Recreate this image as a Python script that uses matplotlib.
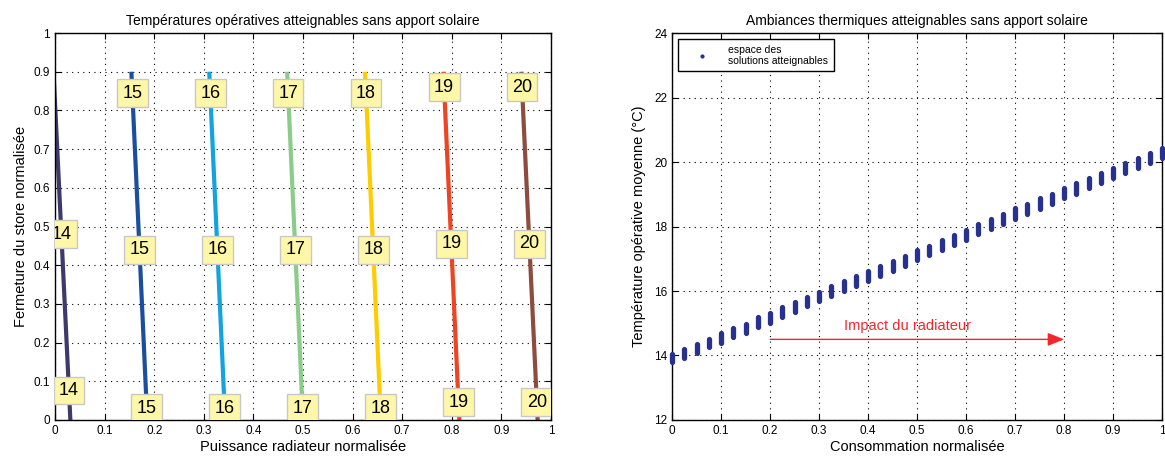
"""Températures et ambiances atteignables sans apport solaire."""

import matplotlib

matplotlib.use("Agg")
import matplotlib.pyplot as plt
import numpy as np
from matplotlib.lines import Line2D

plt.rcParams["font.family"] = ["Liberation Sans", "DejaVu Sans"]

# left panel: iso-temperature lines (x at store=0 and at store=0.9)
iso_temps = [14, 15, 16, 17, 18, 19, 20]
iso_x_bottom = [0.031, 0.186, 0.343, 0.500, 0.657, 0.815, 0.973]
iso_x_top = [-0.003, 0.154, 0.311, 0.468, 0.625, 0.783, 0.940]
iso_y_range = [0.0, 0.9]
iso_colors = ["#3d3a6b", "#1b4e9e", "#13a3e0", "#8ccc8a", "#ffcc00", "#ef4423", "#8c4c3e"]
# heights of the three rows of inline labels for each line
label_y_top = [None, 0.845, 0.845, 0.845, 0.845, 0.86, 0.86]
label_y_mid = [0.48, 0.44, 0.44, 0.44, 0.44, 0.455, 0.455]
label_y_low = [0.076, 0.03, 0.03, 0.03, 0.03, 0.046, 0.046]

# right panel: reachable operative temperatures per consumption level
conso = [0.0, 0.025, 0.05, 0.075, 0.1, 0.125, 0.15, 0.175, 0.2, 0.225, 0.25,
         0.275, 0.3, 0.325, 0.35, 0.375, 0.4, 0.425, 0.45, 0.475, 0.5,
         0.525, 0.55, 0.575, 0.6, 0.625, 0.65, 0.675, 0.7, 0.725, 0.75,
         0.775, 0.8, 0.825, 0.85, 0.875, 0.9, 0.925, 0.95, 0.975, 1.0]
t_low = [13.80, 13.93, 14.09, 14.26, 14.40, 14.58, 14.71, 14.89, 15.02, 15.20, 15.36,
         15.53, 15.69, 15.84, 16.00, 16.16, 16.31, 16.48, 16.63, 16.79, 16.97,
         17.12, 17.28, 17.43, 17.59, 17.77, 17.92, 18.08, 18.23, 18.40, 18.55,
         18.71, 18.87, 19.02, 19.18, 19.36, 19.51, 19.67, 19.82, 19.98, 20.14]
t_high = [14.06, 14.21, 14.37, 14.52, 14.70, 14.84, 14.99, 15.18, 15.33, 15.49, 15.65,
          15.82, 15.98, 16.16, 16.31, 16.47, 16.62, 16.79, 16.94, 17.10, 17.28,
          17.41, 17.59, 17.75, 17.90, 18.08, 18.23, 18.39, 18.56, 18.71, 18.87,
          19.02, 19.19, 19.36, 19.51, 19.67, 19.82, 19.98, 20.14, 20.29, 20.45]
arrow_start = (0.2, 14.5)
arrow_end = (0.8, 14.5)


def matlab_axes(ax):
    ax.grid(True, linestyle=(0, (1, 4)), color="black", linewidth=0.8)
    ax.tick_params(direction="in", top=True, right=True, labelsize=8.5, length=4)
    for spine in ax.spines.values():
        spine.set_linewidth(1.0)


fig = plt.figure(figsize=(11.65, 4.59), dpi=100)
ax1 = fig.add_axes([0.0472, 0.085, 0.4258, 0.843])
ax2 = fig.add_axes([0.5770, 0.085, 0.4205, 0.843])

# ---- left panel
for i, temp in enumerate(iso_temps):
    xs = [iso_x_bottom[i], iso_x_top[i]]
    ax1.plot(xs, iso_y_range, color=iso_colors[i], linewidth=3, solid_capstyle="butt")
    for ly in (label_y_top[i], label_y_mid[i], label_y_low[i]):
        if ly is None:
            continue
        lx = np.interp(ly, iso_y_range, xs)
        ax1.text(lx, ly, str(temp), ha="center", va="center", fontsize=13,
                 clip_on=True,
                 bbox=dict(boxstyle="square,pad=0.3", facecolor="#fff7a8",
                           edgecolor="#c8c8c8", linewidth=1))

ax1.set_xlim(0, 1)
ax1.set_ylim(0, 1)
ax1.set_xticks(np.arange(0, 1.01, 0.1))
ax1.set_yticks(np.arange(0, 1.01, 0.1))
ax1.set_xticklabels(["0", "0.1", "0.2", "0.3", "0.4", "0.5", "0.6", "0.7", "0.8", "0.9", "1"])
ax1.set_yticklabels(["0", "0.1", "0.2", "0.3", "0.4", "0.5", "0.6", "0.7", "0.8", "0.9", "1"])
matlab_axes(ax1)
ax1.set_title("Températures opératives atteignables sans apport solaire", fontsize=10, pad=6)
ax1.set_xlabel("Puissance radiateur normalisée", fontsize=10.5, labelpad=2)
ax1.set_ylabel("Fermeture du store normalisée", fontsize=10.5, labelpad=4)

# ---- right panel
ax2.vlines(conso, t_low, t_high, color="#27318f", linewidth=3.8, capstyle="round",
           clip_on=False, zorder=3)
ax2.annotate("", xy=arrow_end, xytext=arrow_start,
             arrowprops=dict(arrowstyle="-|>,head_length=1.0,head_width=0.4",
                             color="#f0282e", linewidth=1.0, shrinkA=0, shrinkB=0))
ax2.text(0.48, 14.9, "Impact du radiateur", color="#f0282e", ha="center", va="center",
         fontsize=10.5)

ax2.set_xlim(0, 1)
ax2.set_ylim(12, 24)
ax2.set_xticks(np.arange(0, 1.01, 0.1))
ax2.set_xticklabels(["0", "0.1", "0.2", "0.3", "0.4", "0.5", "0.6", "0.7", "0.8", "0.9", "1"])
ax2.set_yticks(np.arange(12, 24.1, 2))
matlab_axes(ax2)
ax2.set_title("Ambiances thermiques atteignables sans apport solaire", fontsize=10, pad=6)
ax2.set_xlabel("Consommation normalisée", fontsize=10.5, labelpad=2)
ax2.set_ylabel("Température opérative moyenne (°C)", fontsize=10.5, labelpad=6)

handle = Line2D([], [], linestyle="none", marker=".", markersize=4, color="#27318f")
leg = ax2.legend([handle], ["espace des\nsolutions atteignables"], loc="upper left",
                 fontsize=7.5, fancybox=False, edgecolor="black", framealpha=1,
                 handlelength=3.5, borderaxespad=0.6, borderpad=0.5)
leg.get_frame().set_linewidth(1.0)

fig.savefig("out.png", dpi=100)
